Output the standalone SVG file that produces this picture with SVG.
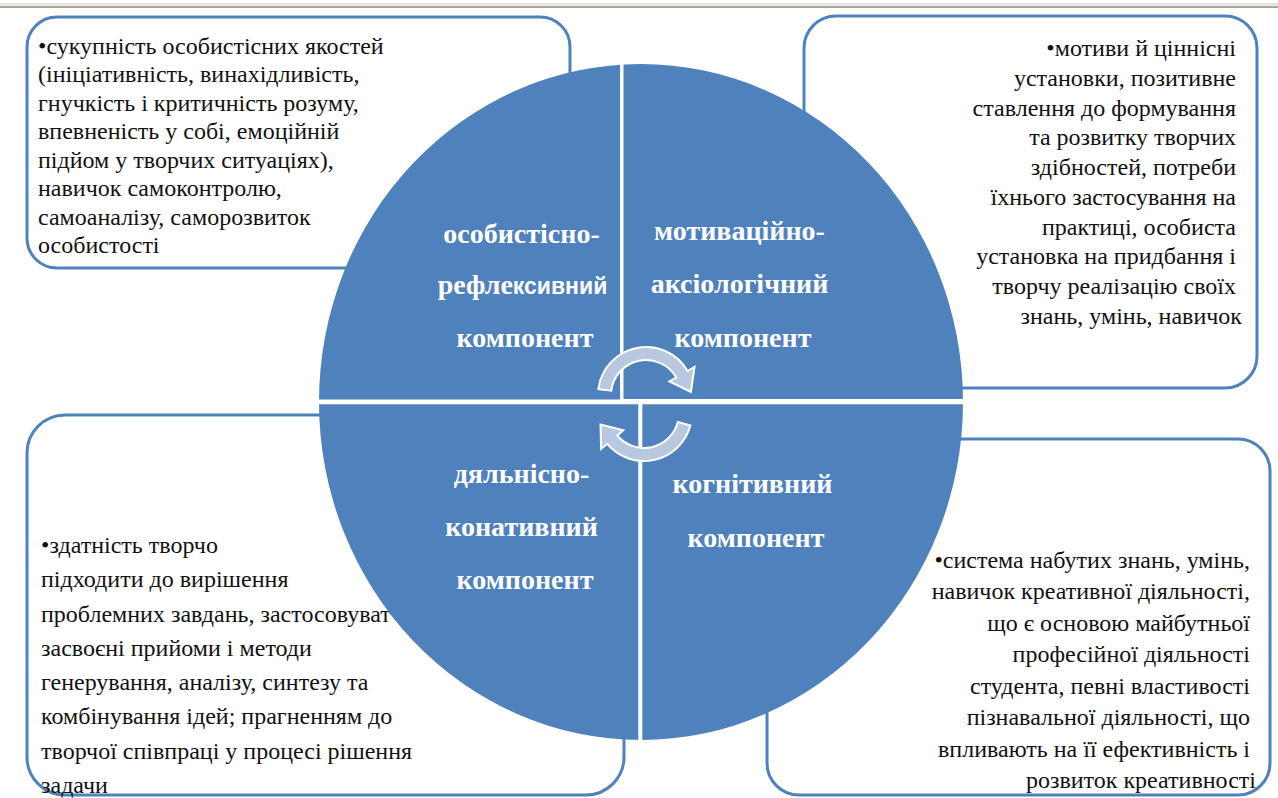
<svg xmlns="http://www.w3.org/2000/svg" width="1278" height="798" viewBox="0 0 1278 798">
  <style>
    .box { fill: #ffffff; stroke: #4f81bd; stroke-width: 3; }
    .body { font-family: "Liberation Serif", "DejaVu Serif", serif; font-size: 24px; fill: #111111; }
    .end { text-anchor: end; }
    .quad { fill: #4f81bd; }
    .label { font-family: "Liberation Serif", "DejaVu Serif", serif; font-size: 28px; font-weight: bold; fill: #ffffff; text-anchor: middle; }
    .sans { font-family: "Liberation Sans", "DejaVu Sans", sans-serif; font-size: 23px; }
    .cycle { fill: #b9c8e1; stroke: #ffffff; stroke-width: 2; stroke-linejoin: miter; }
  </style>
  <defs>
    <clipPath id="wheel">
      <ellipse cx="641" cy="402" rx="322" ry="338"/>
    </clipPath>
  </defs>

  <rect width="1278" height="798" fill="#ffffff"/>

  <!-- header rule -->
  <rect x="0" y="3" width="1278" height="2.5" fill="#e4e2dc"/>
  <rect x="0" y="6" width="1278" height="2" fill="#a9a598"/>

  <!-- description boxes -->
  <g id="box-personal">
    <rect class="box" x="27" y="17" width="543" height="251" rx="30"/>
    <text class="body">
      <tspan x="38" y="54">•сукупність особистісних якостей</tspan>
      <tspan x="38" y="82.4">(ініціативність,  винахідливість,</tspan>
      <tspan x="38" y="110.9">гнучкість і  критичність розуму,</tspan>
      <tspan x="38" y="139.3">впевненість у собі, емоційній</tspan>
      <tspan x="38" y="167.7">підйом у творчих ситуаціях),</tspan>
      <tspan x="38" y="196.1">навичок самоконтролю,</tspan>
      <tspan x="38" y="224.6">самоаналізу, саморозвиток</tspan>
      <tspan x="38" y="253">особистості</tspan>
    </text>
  </g>

  <g id="box-motivation">
    <rect class="box" x="804" y="16" width="453" height="372" rx="32"/>
    <text class="body end">
      <tspan x="1242" y="56">•мотиви й ціннісні</tspan>
      <tspan x="1242" y="85.8">установки, позитивне</tspan>
      <tspan x="1242" y="115.6">ставлення до формування</tspan>
      <tspan x="1242" y="145.3">та розвитку творчих</tspan>
      <tspan x="1242" y="175.1">здібностей, потреби</tspan>
      <tspan x="1242" y="204.9">їхнього застосування на</tspan>
      <tspan x="1242" y="234.7">практиці, особиста</tspan>
      <tspan x="1242" y="264.4">установка на придбання і</tspan>
      <tspan x="1242" y="294.2">творчу реалізацію своїх</tspan>
      <tspan x="1242" y="324">знань, умінь, навичок</tspan>
    </text>
  </g>

  <g id="box-activity">
    <rect class="box" x="27" y="415" width="597" height="380" rx="38"/>
    <text class="body">
      <tspan x="41" y="553">•здатність творчо</tspan>
      <tspan x="41" y="587.3">підходити до вирішення</tspan>
      <tspan x="41" y="621.6">проблемних завдань, застосовуват</tspan>
      <tspan x="41" y="655.9">засвоєні прийоми і методи</tspan>
      <tspan x="41" y="690.1">генерування, аналізу, синтезу та</tspan>
      <tspan x="41" y="724.4">комбінування ідей; прагненням до</tspan>
      <tspan x="41" y="758.7">творчої співпраці у процесі рішення</tspan>
      <tspan x="41" y="793">задачи</tspan>
    </text>
  </g>

  <g id="box-cognitive">
    <rect class="box" x="767" y="439" width="503" height="356" rx="32"/>
    <text class="body end">
      <tspan x="1256" y="568">•система набутих знань, умінь,</tspan>
      <tspan x="1256" y="599.4">навичок креативної діяльності,</tspan>
      <tspan x="1256" y="630.9">що є основою майбутньої</tspan>
      <tspan x="1256" y="662.3">професійної діяльності</tspan>
      <tspan x="1256" y="693.7">студента, певні властивості</tspan>
      <tspan x="1256" y="725.1">пізнавальної діяльності, що</tspan>
      <tspan x="1256" y="756.6">впливають на її  ефективність і</tspan>
      <tspan x="1256" y="788">розвиток креативності</tspan>
    </text>
  </g>

  <!-- four-part wheel -->
  <g clip-path="url(#wheel)">
    <g id="quad-personal">
      <rect class="quad" x="300" y="40" width="320" height="359.5"/>
      <text class="label">
        <tspan x="525" y="243">особистісно-</tspan>
        <tspan x="526" y="294">рефле<tspan class="sans">ксивний</tspan></tspan>
        <tspan x="525" y="347">компонент</tspan>
      </text>
    </g>
    <g id="quad-motivation">
      <rect class="quad" x="623.5" y="40" width="370" height="359"/>
      <text class="label">
        <tspan x="743" y="240">мотиваційно-</tspan>
        <tspan x="743" y="293">аксіологічний</tspan>
        <tspan x="743" y="347">компонент</tspan>
      </text>
    </g>
    <g id="quad-activity">
      <rect class="quad" x="300" y="404.3" width="338.3" height="360"/>
      <text class="label">
        <tspan x="525" y="483">дяльнісно-</tspan>
        <tspan x="525" y="536">конативний</tspan>
        <tspan x="525" y="589">компонент</tspan>
      </text>
    </g>
    <g id="quad-cognitive">
      <rect class="quad" x="642.3" y="404.3" width="350" height="360"/>
      <text class="label">
        <tspan x="756" y="493">когнітивний</tspan>
        <tspan x="756" y="547">компонент</tspan>
      </text>
    </g>
  </g>

  <!-- circular arrows -->
  <g id="connectors">
    <path class="cycle" d="M 598.36 389.15 A 48 48 0 0 1 687.57 371 L 694.5 367 L 690.9 391.9 L 669.38 381.5 L 676.31 377.5 A 35 35 0 0 0 611.26 390.73 Z"/>
    <path class="cycle" d="M 690.36 425.42 A 48 48 0 0 1 607.23 443.85 L 601.1 449 L 600.53 424.65 L 623.32 430.36 L 617.19 435.5 A 35 35 0 0 0 677.81 422.06 Z"/>
  </g>
</svg>
